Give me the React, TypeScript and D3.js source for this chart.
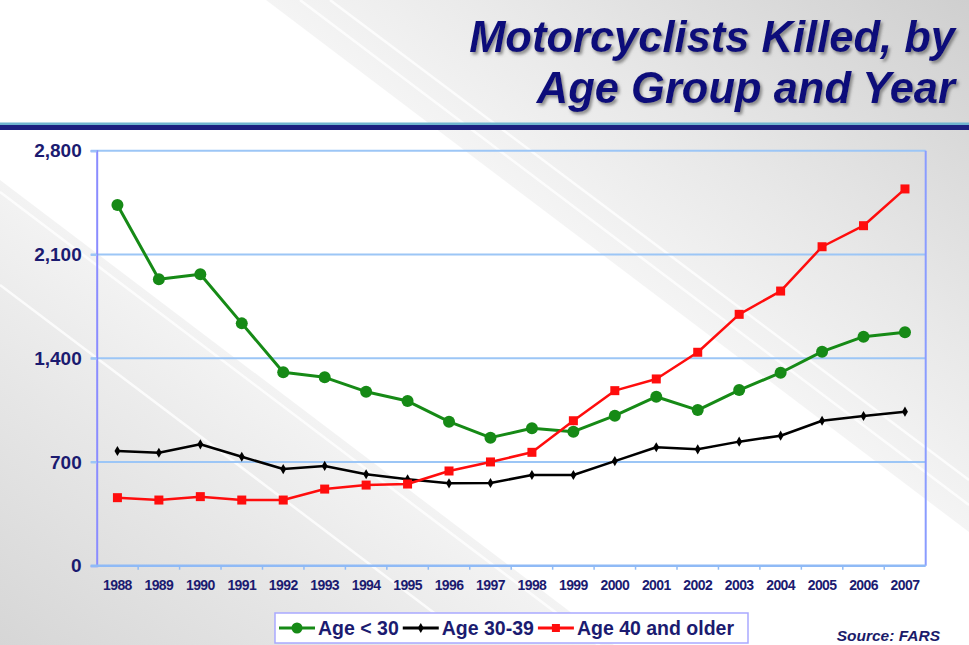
import React, { useEffect, useRef } from 'react';
import * as d3 from 'd3';

// chart data
const years = ['1988', '1989', '1990', '1991', '1992', '1993', '1994', '1995', '1996', '1997',
  '1998', '1999', '2000', '2001', '2002', '2003', '2004', '2005', '2006', '2007'];
const ageUnder30 = [2434, 1932, 1966, 1635, 1305, 1271, 1174, 1111, 972, 864,
  927, 904, 1012, 1140, 1050, 1185, 1302, 1444, 1545, 1575];
const age30to39 = [774, 762, 819, 735, 652, 673, 617, 583, 556, 558,
  612, 612, 706, 799, 785, 837, 877, 978, 1010, 1039];
const age40plus = [459, 443, 466, 443, 443, 517, 544, 551, 639, 700,
  765, 978, 1181, 1260, 1440, 1696, 1853, 2152, 2294, 2542];
const yTicks = [0, 700, 1400, 2100, 2800];
const seriesNames = ['Age < 30', 'Age 30-39', 'Age 40 and older'];
const titleLines = ['Motorcyclists Killed, by', 'Age Group and Year'];

const W = 969;
const H = 645;
const FONT = 'Arial, "Liberation Sans", sans-serif';
const NAVY = '#1b1b70';

export default function App() {
  const ref = useRef<SVGSVGElement>(null);

  useEffect(() => {
    const svg = d3.select(ref.current);
    svg.selectAll('*').remove();

    const margin = { top: 150.7, right: 43.3, bottom: 79.3, left: 96.7 };
    const plotW = W - margin.left - margin.right;
    const plotH = H - margin.top - margin.bottom;

    const defs = svg.append('defs');

    // background gradients
    const g1 = defs.append('linearGradient').attr('id', 'grayUR')
      .attr('gradientUnits', 'userSpaceOnUse')
      .attr('x1', 617).attr('y1', 266).attr('x2', 873).attr('y2', -72);
    g1.append('stop').attr('offset', 0).attr('stop-color', '#f4f4f4');
    g1.append('stop').attr('offset', 0.35).attr('stop-color', '#e8e8e8');
    g1.append('stop').attr('offset', 1).attr('stop-color', '#cfcfcf');

    const g2 = defs.append('linearGradient').attr('id', 'grayLL')
      .attr('gradientUnits', 'userSpaceOnUse')
      .attr('x1', 300).attr('y1', 407).attr('x2', 76).attr('y2', 703);
    g2.append('stop').attr('offset', 0).attr('stop-color', '#f3f3f3');
    g2.append('stop').attr('offset', 0.4).attr('stop-color', '#e7e7e7');
    g2.append('stop').attr('offset', 1).attr('stop-color', '#d6d6d6');

    const shadow = defs.append('filter').attr('id', 'tshadow')
      .attr('x', '-5%').attr('y', '-20%').attr('width', '110%').attr('height', '140%');
    shadow.append('feDropShadow').attr('dx', 2).attr('dy', 2.5)
      .attr('stdDeviation', 1.5).attr('flood-color', '#6a6a6a').attr('flood-opacity', 0.75);

    const bg = svg.append('g');
    bg.append('rect').attr('width', W).attr('height', H).attr('fill', '#ffffff');
    bg.append('polygon').attr('points', '266,0 969,0 969,532').attr('fill', 'url(#grayUR)');
    bg.append('polygon').attr('points', '0,180 614,645 0,645').attr('fill', 'url(#grayLL)');

    // thin white streaks
    const streaks = [
      [0, 192, 600, 646], [0, 285, 470, 640], [300, 0, 969, 505], [330, 0, 969, 480],
    ];
    bg.selectAll('line.streak').data(streaks).enter().append('line')
      .attr('x1', d => d[0]).attr('y1', d => d[1]).attr('x2', d => d[2]).attr('y2', d => d[3])
      .attr('stroke', '#ffffff').attr('stroke-width', 2.5).attr('opacity', 0.8);

    // title
    const title = svg.append('g').attr('filter', 'url(#tshadow)');
    title.selectAll('text').data(titleLines).enter().append('text')
      .attr('x', 955)
      .attr('y', (d, i) => (i === 0 ? 52 : 103))
      .attr('text-anchor', 'end')
      .style('font-family', FONT)
      .style('font-weight', 'bold')
      .style('font-style', 'italic')
      .style('font-size', '43.5px')
      .style('fill', '#11117a')
      .text(d => d);

    // header rule
    svg.append('rect').attr('x', 0).attr('y', 122.5).attr('width', W).attr('height', 2.5).attr('fill', '#6fb4cf');
    svg.append('rect').attr('x', 0).attr('y', 125).attr('width', W).attr('height', 5).attr('fill', '#1c2080');

    const xScale = d3.scaleBand().domain(years).range([0, plotW]);
    const yScale = d3.scaleLinear().domain([0, 2800]).range([plotH, 0]);
    const cx = (d: string) => (xScale(d) as number) + xScale.bandwidth() / 2;

    const plot = svg.append('g')
      .attr('transform', 'translate(' + margin.left + ', ' + margin.top + ')');

    // grid lines
    plot.selectAll('line.grid').data(yTicks.filter(t => t > 0)).enter().append('line')
      .attr('x1', -6).attr('x2', plotW)
      .attr('y1', d => yScale(d)).attr('y2', d => yScale(d))
      .attr('stroke', '#9cc6f6').attr('stroke-width', 2);

    // right border
    plot.append('line').attr('x1', plotW).attr('x2', plotW).attr('y1', 0).attr('y2', plotH)
      .attr('stroke', '#8a9cff').attr('stroke-width', 2);

    // left axis
    const yAxis = d3.axisLeft(yScale).tickValues(yTicks).tickSize(6).tickPadding(9)
      .tickFormat(d3.format(','));
    const yG = plot.append('g');
    yAxis(yG);
    yG.select('path').style('stroke', '#8a8cff').style('stroke-width', 2);
    yG.selectAll('line').style('stroke', '#9cc6f6').style('stroke-width', 2);
    yG.selectAll('text').style('font-family', FONT).style('font-weight', 'bold')
      .style('font-size', '19px').style('fill', NAVY);

    // bottom axis
    const xAxis = d3.axisBottom(xScale).tickSize(0).tickPadding(14);
    const xG = plot.append('g').attr('transform', 'translate(0, ' + plotH + ')');
    xAxis(xG);
    xG.select('path').remove();
    xG.selectAll('text').style('font-family', FONT).style('font-weight', 'bold')
      .style('font-size', '14px').style('fill', NAVY).style('letter-spacing', '-0.6px');
    xG.append('line').attr('x1', -6).attr('x2', plotW).attr('y1', 0).attr('y2', 0)
      .attr('stroke', '#8fbaf6').attr('stroke-width', 2.5);
    xG.selectAll('line.btick').data(years.slice(1)).enter().append('line')
      .attr('x1', d => xScale(d) as number).attr('x2', d => xScale(d) as number)
      .attr('y1', 0).attr('y2', 4)
      .attr('stroke', '#8fbaf6').attr('stroke-width', 1.5);

    // series
    const line = d3.line<number>()
      .x((d, i) => cx(years[i]))
      .y(d => yScale(d));

    const drawSeries = (data: number[], color: string, width: number) => {
      plot.append('path').datum(data)
        .attr('d', line)
        .attr('fill', 'none')
        .attr('stroke', color)
        .attr('stroke-width', width)
        .attr('stroke-linejoin', 'round');
    };

    drawSeries(age30to39, '#000000', 2.5);
    plot.selectAll('path.dia').data(age30to39).enter().append('path')
      .attr('d', d3.symbol().type(d3.symbolDiamond).size(30))
      .attr('transform', (d, i) => 'translate(' + cx(years[i]) + ',' + yScale(d) + ')')
      .attr('fill', '#000000');

    drawSeries(ageUnder30, '#168a16', 3);
    plot.selectAll('circle.pt').data(ageUnder30).enter().append('circle')
      .attr('cx', (d, i) => cx(years[i])).attr('cy', d => yScale(d)).attr('r', 6)
      .attr('fill', '#168a16');

    drawSeries(age40plus, '#ff0d0d', 2.5);
    plot.selectAll('rect.sq').data(age40plus).enter().append('rect')
      .attr('x', (d, i) => cx(years[i]) - 4.5).attr('y', d => yScale(d) - 4.5)
      .attr('width', 9).attr('height', 9)
      .attr('fill', '#ff0d0d');

    // legend
    const legend = svg.append('g');
    legend.append('rect').attr('x', 275).attr('y', 613).attr('width', 473).attr('height', 30)
      .attr('fill', '#ffffff').attr('stroke', '#a9a9ff').attr('stroke-width', 1.5);
    const colors = ['#168a16', '#000000', '#ff0d0d'];
    let lx = 279;
    seriesNames.forEach((name, i) => {
      legend.append('line').attr('x1', lx).attr('x2', lx + 36).attr('y1', 628).attr('y2', 628)
        .attr('stroke', colors[i]).attr('stroke-width', 3);
      if (i === 0) {
        legend.append('circle').attr('cx', lx + 18).attr('cy', 628).attr('r', 5.5).attr('fill', colors[i]);
      } else if (i === 1) {
        legend.append('path').attr('d', d3.symbol().type(d3.symbolDiamond).size(30))
          .attr('transform', 'translate(' + (lx + 18) + ',628)').attr('fill', colors[i]);
      } else {
        legend.append('rect').attr('x', lx + 14).attr('y', 624).attr('width', 8).attr('height', 8)
          .attr('fill', colors[i]);
      }
      const t = legend.append('text').attr('x', lx + 39).attr('y', 635)
        .style('font-family', FONT).style('font-weight', 'bold').style('font-size', '19.5px')
        .style('fill', NAVY).text(name);
      const len = (t.node() as SVGTextElement).getComputedTextLength();
      lx = lx + 39 + len + 4;
    });

    // source note
    svg.append('text').attr('x', 940).attr('y', 641).attr('text-anchor', 'end')
      .style('font-family', FONT).style('font-weight', 'bold').style('font-style', 'italic')
      .style('font-size', '15.5px').style('fill', '#1b1b6a').text('Source: FARS');
  }, []);

  return (
    <svg ref={ref} width={W} height={H}
      style={{ position: 'absolute', left: 0, top: 0, display: 'block' }} />
  );
}
